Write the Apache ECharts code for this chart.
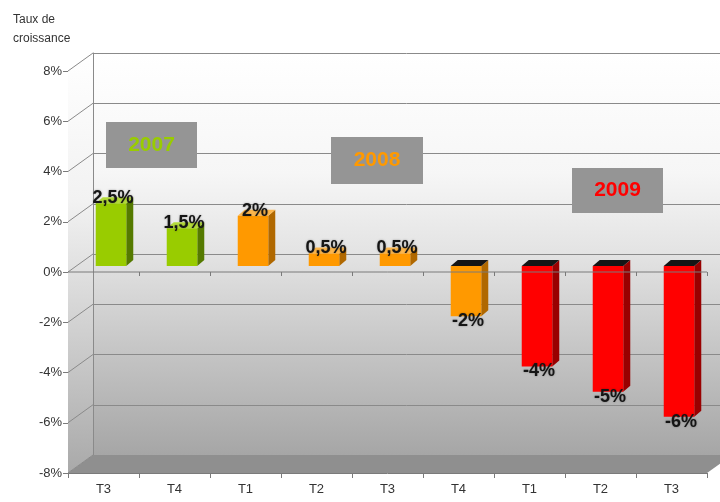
<!DOCTYPE html>
<html>
<head>
<meta charset="utf-8">
<title>Taux de croissance</title>
<script src="https://cdn.jsdelivr.net/npm/echarts@6/dist/echarts.min.js"></script>
<style>
    html, body { margin: 0; padding: 0; background: #fff; }
    #chart { width: 720px; height: 502px; }
</style>
</head>
<body>
<div id="chart"></div>
<script>
// données
const quarters = ['T3', 'T4', 'T1', 'T2', 'T3', 'T4', 'T1', 'T2', 'T3'];
const growth = [2.5, 1.5, 2, 0.5, 0.5, -2, -4, -5, -6];
const yearOfBar = ['2007', '2007', '2008', '2008', '2008', '2008', '2009', '2009', '2009'];
const years = ['2007', '2008', '2009'];
const yMin = -8;
const yMax = 8;
const yStep = 2;

// couleurs par année : face avant, côté, dessus
const yearColors = {
    '2007': {front: '#99cc00', side: '#557a00', top: '#b5dd3a', text: '#99cc00'},
    '2008': {front: '#ff9900', side: '#b06800', top: '#ffb84d', text: '#ff9900'},
    '2009': {front: '#ff0000', side: '#990000', top: '#ff5050', text: '#ff0000'}
};
// cadres des années (px)
const yearBoxes = {
    '2007': {x: 106, y: 122, w: 91, h: 46},
    '2008': {x: 331, y: 137, w: 92, h: 47},
    '2009': {x: 572, y: 168, w: 91, h: 45}
};

// profondeur 3D
const DX = 25, DY = -18;
const BAR_DX = 7.5, BAR_DY = -6;
const DEPTH_X = 7, DEPTH_Y = -6;

const fmt = (v) => String(v).replace('.', ',') + '%';

let chart = echarts.init(document.getElementById('chart'));

function renderWalls (params, api) {
    const bw = api.size([1, 0])[0];
    const xl = api.coord([0, 0])[0] - bw / 2;
    const xr = api.coord([quarters.length - 1, 0])[0] + bw / 2;
    const yTop = api.coord([0, yMax])[1];
    const yBot = api.coord([0, yMin])[1];
    const children = [];
    children.push({
        type: 'polygon',
        shape: {points: [[xl, yTop], [xl + DX, yTop + DY], [xl + DX, yBot + DY], [xl, yBot]]},
        style: {
            fill: new echarts.graphic.LinearGradient(0, 0, 0, 1, [
                {offset: 0, color: '#ffffff'},
                {offset: 0.35, color: '#f2f2f2'},
                {offset: 0.5, color: '#e2e2e2'},
                {offset: 0.75, color: '#c6c6c6'},
                {offset: 1, color: '#a9a9a9'}
            ])
        }
    });
    children.push({
        type: 'polygon',
        shape: {points: [[xl, yBot], [xr, yBot], [xr + DX, yBot + DY], [xl + DX, yBot + DY]]},
        style: {fill: '#8f8f8f'}
    });
    for (let v = yMin; v <= yMax; v += yStep) {
        const y = api.coord([0, v])[1];
        children.push({
            type: 'line',
            shape: {x1: xl, y1: y, x2: xl + DX, y2: y + DY},
            style: {stroke: '#8a8a8a', lineWidth: 1}
        });
    }
    return {type: 'group', children: children};
}

function renderZeroLine (params, api) {
    const bw = api.size([1, 0])[0];
    const xl = api.coord([0, 0])[0] - bw / 2;
    const y0 = api.coord([0, 0])[1];
    const children = [{
        type: 'line',
        shape: {x1: xl, y1: y0, x2: xl + bw * quarters.length, y2: y0},
        style: {stroke: '#7a7a7a', lineWidth: 1}
    }];
    for (let i = 1; i <= quarters.length; i++) {
        const x = Math.round(xl + bw * i) + 0.5;
        children.push({
            type: 'line',
            shape: {x1: x, y1: y0, x2: x, y2: y0 + 4},
            style: {stroke: '#7a7a7a', lineWidth: 1}
        });
    }
    return {type: 'group', children: children};
}

function renderBar (params, api) {
    const i = api.value(0);
    const v = api.value(1);
    const c = yearColors[yearOfBar[i]];
    const base = api.coord([i, 0]);
    const end = api.coord([i, v]);
    const w = api.size([1, 0])[0] * 0.43;
    const x0 = base[0] - w / 2 + BAR_DX;
    const x1 = x0 + w;
    const top = Math.min(base[1], end[1]) + BAR_DY;
    const bot = Math.max(base[1], end[1]) + BAR_DY;
    return {
        type: 'group',
        children: [
            {
                type: 'polygon',
                shape: {points: [[x1, top], [x1 + DEPTH_X, top + DEPTH_Y], [x1 + DEPTH_X, bot + DEPTH_Y], [x1, bot]]},
                style: {fill: c.side}
            },
            {
                type: 'polygon',
                shape: {points: [[x0, top], [x0 + DEPTH_X, top + DEPTH_Y], [x1 + DEPTH_X, top + DEPTH_Y], [x1, top]]},
                style: {fill: v < 0 ? '#151515' : c.top}
            },
            {
                type: 'rect',
                shape: {x: x0, y: top, width: w, height: bot - top},
                style: {fill: c.front}
            },
            {
                type: 'text',
                x: (x0 + x1) / 2 + 2,
                y: v < 0 ? bot + 5 : top - 5,
                style: {
                    text: fmt(v),
                    fill: '#151515',
                    font: 'bold 18px "Liberation Sans", Arial, sans-serif',
                    align: 'center',
                    verticalAlign: 'middle',
                    textShadowColor: 'rgba(0,0,0,0.35)',
                    textShadowBlur: 2
                }
            }
        ]
    };
}

const graphics = [];
years.forEach((yr) => {
    const b = yearBoxes[yr];
    graphics.push({
        type: 'rect',
        left: b.x,
        top: b.y,
        shape: {width: b.w, height: b.h},
        style: {fill: '#959595'},
        z: 10
    });
    graphics.push({
        type: 'text',
        x: b.x + b.w / 2,
        y: b.y + b.h / 2,
        style: {
            text: yr,
            fill: yearColors[yr].text,
            font: 'bold 21px "Liberation Sans", Arial, sans-serif',
            align: 'center',
            verticalAlign: 'middle'
        },
        z: 11
    });
});

chart.setOption({
    animation: false,
    backgroundColor: '#ffffff',
    title: {
        text: 'Taux de\ncroissance',
        left: 8,
        top: 5,
        textStyle: {
            fontSize: 12,
            fontWeight: 'normal',
            color: '#333',
            lineHeight: 19,
            fontFamily: '"Liberation Sans", Arial, sans-serif'
        }
    },
    grid: [
        {
            // paroi du fond
            left: 93,
            right: -12,
            top: 53,
            bottom: 47,
            show: true,
            borderWidth: 0,
            backgroundColor: new echarts.graphic.LinearGradient(0, 0, 0, 1, [
                {offset: 0, color: '#ffffff'},
                {offset: 0.3, color: '#f6f6f6'},
                {offset: 0.5, color: '#e3e3e3'},
                {offset: 0.75, color: '#c4c4c4'},
                {offset: 1, color: '#a6a6a6'}
            ])
        },
        {
            // plan avant
            left: 68,
            right: 13,
            top: 71,
            bottom: 29
        }
    ],
    xAxis: [
        {
            type: 'category',
            gridIndex: 0,
            data: quarters,
            show: false
        },
        {
            type: 'category',
            gridIndex: 1,
            data: quarters,
            axisLine: {onZero: false, lineStyle: {color: '#7a7a7a'}},
            axisTick: {show: true, length: 5, lineStyle: {color: '#7a7a7a'}},
            axisLabel: {
                color: '#333',
                fontSize: 13,
                margin: 10,
                fontFamily: '"Liberation Sans", Arial, sans-serif'
            },
            splitLine: {show: false}
        }
    ],
    yAxis: [
        {
            type: 'value',
            gridIndex: 0,
            min: yMin,
            max: yMax,
            interval: yStep,
            axisLabel: {show: false},
            axisTick: {show: false},
            axisLine: {show: true, lineStyle: {color: '#8a8a8a'}},
            splitLine: {show: true, lineStyle: {color: '#8a8a8a', width: 1}}
        },
        {
            type: 'value',
            gridIndex: 1,
            min: yMin,
            max: yMax,
            interval: yStep,
            axisLine: {show: true, lineStyle: {color: '#7a7a7a'}},
            axisTick: {show: true, length: 5, lineStyle: {color: '#7a7a7a'}},
            axisLabel: {
                color: '#333',
                fontSize: 13,
                margin: 6,
                formatter: '{value}%',
                fontFamily: '"Liberation Sans", Arial, sans-serif'
            },
            splitLine: {show: false}
        }
    ],
    graphic: graphics,
    series: [
        {
            name: 'parois',
            type: 'custom',
            xAxisIndex: 1,
            yAxisIndex: 1,
            z: 1,
            silent: true,
            renderItem: renderWalls,
            data: [[0, 0]]
        },
        {
            name: 'croissance',
            type: 'custom',
            xAxisIndex: 1,
            yAxisIndex: 1,
            z: 3,
            renderItem: renderBar,
            data: growth.map((v, i) => [i, v])
        },
        {
            name: 'axe zéro',
            type: 'custom',
            xAxisIndex: 1,
            yAxisIndex: 1,
            z: 5,
            silent: true,
            renderItem: renderZeroLine,
            data: [[0, 0]]
        }
    ]
});
</script>
</body>
</html>
